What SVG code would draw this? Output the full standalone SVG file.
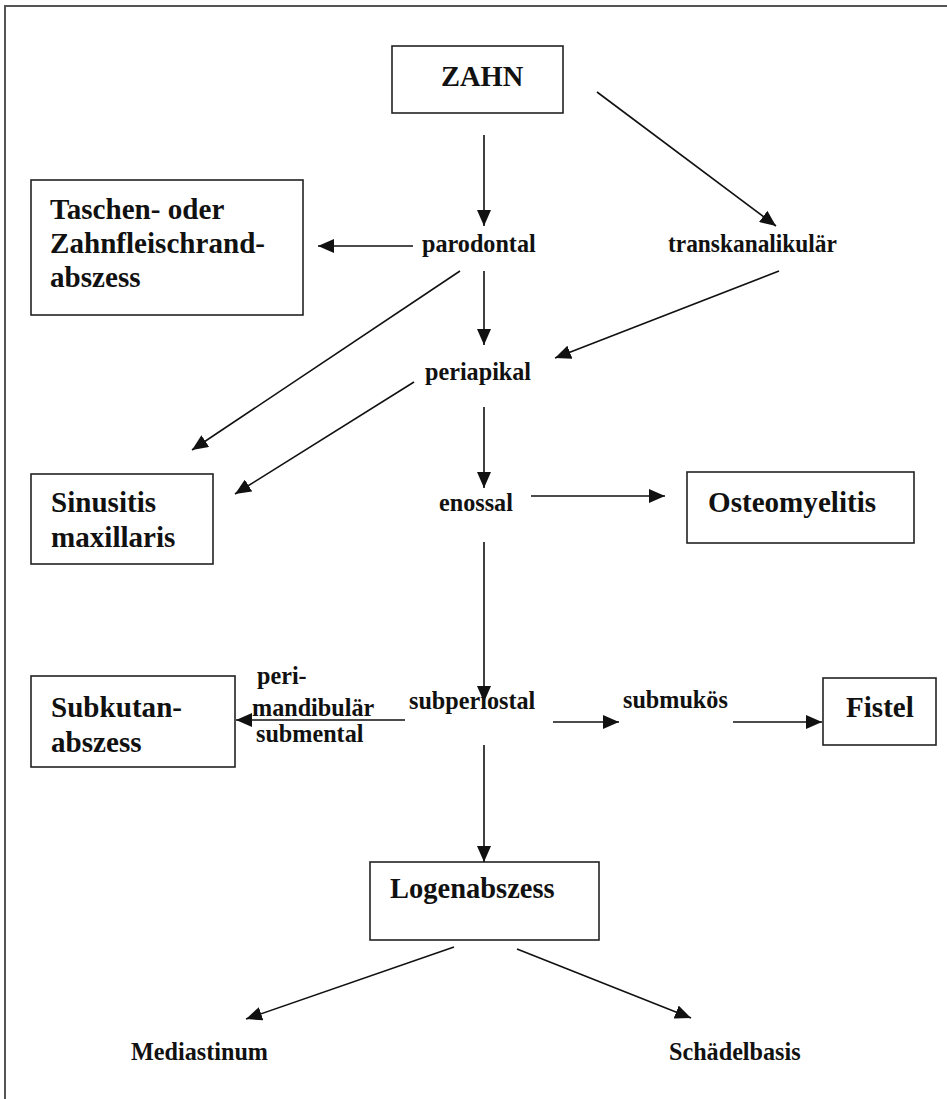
<svg xmlns="http://www.w3.org/2000/svg" width="947" height="1099" viewBox="0 0 947 1099">
<defs>
<style>
.box{fill:#fff;stroke:#222;stroke-width:1.6}
.bt{font-family:"Liberation Serif","Times New Roman",serif;font-weight:bold;font-size:30px;fill:#111}
.lt{font-family:"Liberation Serif","Times New Roman",serif;font-weight:bold;font-size:26px;fill:#111}
.cn line{stroke:#111;stroke-width:1.6;marker-end:url(#ah)}
</style>
<marker id="ah" markerWidth="16" markerHeight="14" refX="16" refY="7" orient="auto" markerUnits="userSpaceOnUse"><path d="M0,0 L16,7 L0,14 z" fill="#111"/></marker>
</defs>
<rect x="0" y="0" width="947" height="1099" fill="#fff"/>
<rect x="5" y="6" width="1000" height="1200" fill="none" stroke="#555" stroke-width="2"/>

<g id="n-zahn"><rect class="box" x="392" y="46" width="171" height="67"/><text class="bt" transform="translate(441,86) scale(0.95,1)">ZAHN</text></g>
<g id="n-parodontal"><text class="lt" transform="translate(422,252) scale(0.93,1)">parodontal</text></g>
<g id="n-transkanalikular"><text class="lt" transform="translate(668,252) scale(0.9,1)">transkanalikulär</text></g>
<g id="n-taschen"><rect class="box" x="31" y="180" width="272" height="135"/>
<text class="bt" transform="translate(50,219) scale(0.97,1)">Taschen- oder</text><text class="bt" transform="translate(50,253) scale(0.97,1)">Zahnfleischrand-</text><text class="bt" transform="translate(50,287) scale(0.97,1)">abszess</text></g>
<g id="n-periapikal"><text class="lt" transform="translate(425,380) scale(0.93,1)">periapikal</text></g>
<g id="n-sinusitis"><rect class="box" x="31" y="474" width="182" height="90"/>
<text class="bt" transform="translate(51,512) scale(0.97,1)">Sinusitis</text><text class="bt" transform="translate(51,547) scale(0.97,1)">maxillaris</text></g>
<g id="n-enossal"><text class="lt" transform="translate(439,511) scale(0.93,1)">enossal</text></g>
<g id="n-osteomyelitis"><rect class="box" x="687" y="472" width="227" height="71"/><text class="bt" transform="translate(708,512) scale(0.97,1)">Osteomyelitis</text></g>
<g id="n-subperiostal"><text class="lt" transform="translate(409,709) scale(0.93,1)">subperiostal</text></g>
<g id="n-subkutan"><rect class="box" x="31" y="676" width="204" height="91"/>
<text class="bt" transform="translate(51,717) scale(0.97,1)">Subkutan-</text><text class="bt" transform="translate(51,752) scale(0.97,1)">abszess</text></g>
<g id="n-submukos"><text class="lt" transform="translate(623,708) scale(0.93,1)">submukös</text></g>
<g id="n-fistel"><rect class="box" x="823" y="678" width="113" height="67"/><text class="bt" transform="translate(846,717) scale(0.97,1)">Fistel</text></g>
<g id="n-logen"><rect class="box" x="370" y="862" width="229" height="78"/><text class="bt" transform="translate(390,898) scale(0.95,1)">Logenabszess</text></g>
<g id="n-mediastinum"><text class="lt" transform="translate(131,1060) scale(0.93,1)">Mediastinum</text></g>
<g id="n-schaedelbasis"><text class="lt" transform="translate(669,1060) scale(0.93,1)">Schädelbasis</text></g>

<g id="edge-labels">
<text class="lt" transform="translate(257,684) scale(0.93,1)">peri-</text>
<text class="lt" transform="translate(252,716) scale(0.93,1)">mandibulär</text>
<text class="lt" transform="translate(256,742) scale(0.93,1)">submental</text>
</g>

<g class="cn" id="connectors">
<line x1="484" y1="135" x2="484" y2="226"/>
<line x1="597" y1="92" x2="776" y2="226"/>
<line x1="413" y1="246" x2="318" y2="246"/>
<line x1="484" y1="271" x2="484" y2="345"/>
<line x1="460" y1="271" x2="192" y2="450"/>
<line x1="779" y1="271" x2="555" y2="358"/>
<line x1="414" y1="382" x2="235" y2="494"/>
<line x1="484" y1="407" x2="484" y2="488"/>
<line x1="531" y1="496" x2="665" y2="496"/>
<line x1="484" y1="542" x2="484" y2="702"/>
<line x1="405" y1="720" x2="236" y2="720"/>
<line x1="553" y1="722" x2="619" y2="722"/>
<line x1="733" y1="722" x2="822" y2="722"/>
<line x1="484" y1="745" x2="484" y2="862"/>
<line x1="454" y1="947" x2="246" y2="1019"/>
<line x1="517" y1="949" x2="691" y2="1018"/>
</g>
</svg>
